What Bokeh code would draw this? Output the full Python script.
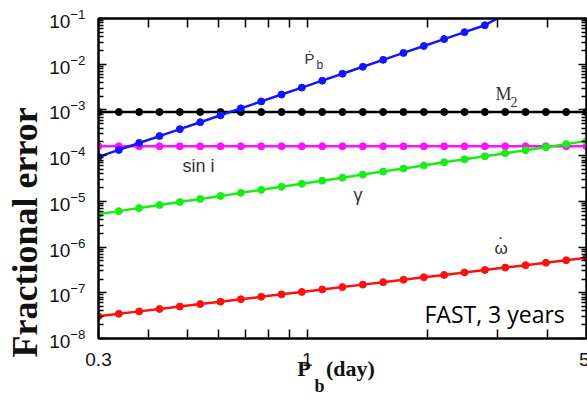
from bokeh.embed import file_html
from bokeh.models import CustomJSTickFormatter, FixedTicker, Label, LogAxis, Range1d, Title
from bokeh.plotting import figure
from bokeh.resources import INLINE

# Orbital period grid (days), evenly spaced in log between 0.3 and 5
orbital_period = [0.300, 0.3373, 0.3793, 0.4265, 0.4795, 0.5392, 0.6063, 0.6817,
                  0.7665, 0.8618, 0.9690, 1.0896, 1.2247, 1.3771, 1.5484, 1.7410,
                  1.9576, 2.2011, 2.4749, 2.7828, 3.1290, 3.5183, 3.9559, 4.4481, 5.000]

# Fractional errors of the post-Keplerian / mass parameters
pbdot_err = [9.40e-5, 1.333e-4, 1.89e-4, 2.68e-4, 3.80e-4, 5.38e-4, 7.63e-4, 1.082e-3,
             1.534e-3, 2.175e-3, 3.08e-3, 4.37e-3, 6.20e-3, 8.79e-3, 1.245e-2, 1.766e-2,
             2.505e-2, 3.55e-2, 5.03e-2, 7.13e-2, 0.125]
m2_err = [9.0e-4, 9.0e-4, 9.0e-4, 9.0e-4, 9.0e-4, 9.0e-4, 9.0e-4, 9.0e-4, 9.0e-4,
          9.0e-4, 9.0e-4, 9.0e-4, 9.0e-4, 9.0e-4, 9.0e-4, 9.0e-4, 9.0e-4, 9.0e-4,
          9.0e-4, 9.0e-4, 9.0e-4, 9.0e-4, 9.0e-4, 9.0e-4, 9.0e-4]
sini_err = [1.6e-4, 1.6e-4, 1.6e-4, 1.6e-4, 1.6e-4, 1.6e-4, 1.6e-4, 1.6e-4, 1.6e-4,
            1.6e-4, 1.6e-4, 1.6e-4, 1.6e-4, 1.6e-4, 1.6e-4, 1.6e-4, 1.6e-4, 1.6e-4,
            1.6e-4, 1.6e-4, 1.6e-4, 1.6e-4, 1.6e-4, 1.6e-4, 1.6e-4]
gamma_err = [5.24e-6, 6.11e-6, 7.13e-6, 8.30e-6, 9.68e-6, 1.128e-5, 1.315e-5, 1.534e-5,
             1.787e-5, 2.084e-5, 2.43e-5, 2.83e-5, 3.30e-5, 3.85e-5, 4.49e-5, 5.24e-5,
             6.11e-5, 7.13e-5, 8.30e-5, 9.68e-5, 1.128e-4, 1.315e-4, 1.534e-4, 1.787e-4,
             2.084e-4]
omdot_err = [3.07e-8, 3.47e-8, 3.92e-8, 4.43e-8, 5.01e-8, 5.66e-8, 6.40e-8, 7.23e-8,
             8.18e-8, 9.24e-8, 1.045e-7, 1.181e-7, 1.335e-7, 1.509e-7, 1.706e-7, 1.928e-7,
             2.18e-7, 2.46e-7, 2.79e-7, 3.15e-7, 3.56e-7, 4.02e-7, 4.54e-7, 5.14e-7, 5.81e-7]

# Axis ticks
x_major_ticks = [0.3, 1, 5]
x_minor_ticks = [0.4, 0.5, 0.6, 0.7, 0.8, 0.9, 2, 3, 4]
y_decades = [-8, -7, -6, -5, -4, -3, -2, -1]

y_major_ticks = [10.0 ** e for e in y_decades]
y_minor_ticks = [m * 10.0 ** e for e in y_decades[:-1] for m in range(2, 10)]

p = figure(
    x_axis_type="log", y_axis_type="log",
    x_range=Range1d(0.3, 5), y_range=Range1d(1e-8, 1e-1),
    frame_width=488, frame_height=320,
    min_border_left=96, min_border_right=3, min_border_top=18, min_border_bottom=62,
    output_backend="svg", toolbar_location=None,
    background_fill_color="white", border_fill_color="white",
)
p.xgrid.visible = False
p.ygrid.visible = False
p.outline_line_color = "black"
p.outline_line_width = 2

bottom_axis = p.below[0]
left_axis = p.left[0]

x_ticker = FixedTicker(ticks=x_major_ticks, minor_ticks=x_minor_ticks)
y_ticker = FixedTicker(ticks=y_major_ticks, minor_ticks=y_minor_ticks)
blank = CustomJSTickFormatter(code="return ''")

bottom_axis.ticker = x_ticker
bottom_axis.formatter = CustomJSTickFormatter(code="return tick.toString()")
left_axis.ticker = y_ticker

top_axis = LogAxis(ticker=x_ticker, formatter=blank, major_label_standoff=0)
right_axis = LogAxis(ticker=y_ticker, formatter=blank, major_label_standoff=0)
p.add_layout(top_axis, "above")
p.add_layout(right_axis, "right")

for ax in [bottom_axis, top_axis]:
    ax.major_tick_in = 9
    ax.minor_tick_in = 9
for ax in [left_axis, right_axis]:
    ax.major_tick_in = 8
    ax.minor_tick_in = 5
for ax in [bottom_axis, left_axis, top_axis, right_axis]:
    ax.major_tick_out = 0
    ax.minor_tick_out = 0
    ax.axis_line_color = "black"
    ax.axis_line_width = 2
    ax.major_tick_line_color = "black"
    ax.minor_tick_line_color = "black"
    ax.major_tick_line_width = 1.5
    ax.minor_tick_line_width = 1.5
    ax.major_label_text_font = "Liberation Sans"
    ax.major_label_text_font_size = "19px"
    ax.major_label_text_color = "#111111"
bottom_axis.major_label_standoff = 14
left_axis.major_label_standoff = 13

# x-axis title: "P (day)" with the subscript b set on its own row underneath
bottom_axis.axis_label = "P\u2002\u2009(day)\u2002\u200a"
bottom_axis.axis_label_text_font = "Liberation Serif"
bottom_axis.axis_label_text_font_size = "22px"
bottom_axis.axis_label_text_font_style = "bold"
bottom_axis.axis_label_text_color = "#111111"
bottom_axis.axis_label_standoff = -13
p.add_layout(Title(text="b", align="left", offset=216, standoff=-16, vertical_align="top",
                   text_font="Liberation Serif", text_font_size="18px",
                   text_font_style="bold", text_color="#111111"), "below")

# y-axis title
p.add_layout(Title(text="Fractional error", align="left", offset=-19, standoff=4,
                   text_font="Liberation Serif", text_font_size="36px",
                   text_font_style="bold", text_color="#111111"), "left")

# Curves with markers
series = [
    (m2_err, "#000000"),
    (sini_err, "#ff10ff"),
    (gamma_err, "#16ee16"),
    (pbdot_err, "#1414ff"),
    (omdot_err, "#ff1010"),
]
for ys, color in series:
    xs = orbital_period[:len(ys)]
    p.line(xs, ys, line_color=color, line_width=2.5)
    p.scatter(xs, ys, size=7, fill_color=color, line_color=color)


def note(text, x, y, size, font="Liberation Sans", style="normal", color="#333333", **kw):
    p.add_layout(Label(x=x, y=y, x_units="screen", y_units="screen", text=text,
                       text_font=font, text_font_size=size, text_font_style=style,
                       text_color=color, text_baseline="alphabetic", **kw))


# Curve labels (positions relative to the plot frame)
note("\u1e56", 206, 280, "15px")
note("b", 218, 274, "12px")
note("M", 397, 245, "18px", font="Liberation Serif")
note("2", 412, 237, "14px", font="Liberation Serif")
note("sin i", 84, 173, "18px")
note("\u03b3", 255, 144, "18px")
note("\u03c9", 396, 90, "17px")
note("\u02d9", 402, 94, "17px", font="DejaVu Sans", text_align="center")
note("FAST, 3 years", 326, 25, "23px", font="Open Sans", color="#000000")

open("out.html", "w").write(file_html(p, INLINE))
